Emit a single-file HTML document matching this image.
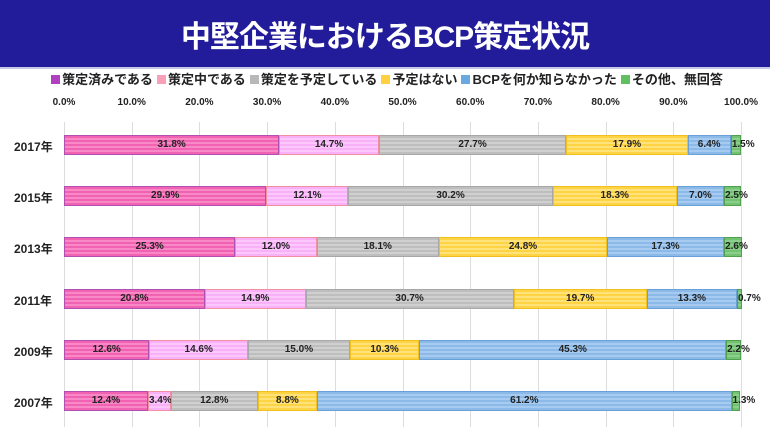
<!DOCTYPE html>
<html><head><meta charset="utf-8"><style>
body{margin:0;width:770px;height:427px;background:#fff;position:relative;overflow:hidden;font-family:"Liberation Sans","Noto Sans CJK JP",sans-serif;}
.t{position:absolute;left:0;top:0;width:770px;height:67px;background:#221c9a;border-bottom:2px solid #c8c8e8;}
.t div{position:absolute;left:0;right:0;top:12px;text-align:center;color:#fff;font-size:30px;font-weight:bold;letter-spacing:-1px;}
.lg{position:absolute;top:69px;left:0;width:770px;text-align:center;font-size:13px;font-weight:bold;color:#222;white-space:nowrap;}
.lg span.s{display:inline-block;width:9px;height:9px;margin:0 2px 0 4px;}
.ax{position:absolute;top:97px;font-size:10px;font-weight:bold;color:#222;transform:translateX(-50%);}
.gl{position:absolute;top:122px;height:305px;width:1px;background:#ddd;}
.yl{position:absolute;left:14px;font-size:12px;font-weight:bold;color:#222;}
.seg{position:absolute;height:20px;box-sizing:border-box;font-size:10px;font-weight:bold;color:#222;text-align:center;line-height:18px;white-space:nowrap;}
</style></head><body>
<div class="t"><div>中堅企業におけるBCP策定状況</div></div>
<div class="lg">
<span class="s" style="background:#b040c0"></span>策定済みである<span class="s" style="background:#f8a0b8"></span>策定中である<span class="s" style="background:#b8b8b8"></span>策定を予定している<span class="s" style="background:#ffd040"></span>予定はない<span class="s" style="background:#6aa8e0"></span>BCPを何か知らなかった<span class="s" style="background:#60c060"></span>その他、無回答
</div>
<div id="c"></div>
<script>
var c=document.getElementById('c'),h='';
var x0=64,W=677;
for(var i=0;i<=10;i++){var x=x0+W*i/10;h+='<div class="gl" style="left:'+x+'px"></div><div class="ax" style="left:'+x+'px">'+(i*10)+'.0%</div>';}
var cols=[['#f262b2','#f888c6','#b050b0'],['#f8b0f8','#fcc8fc','#f090a0'],['#bebebe','#d0d0d0','#a8a8a8'],['#ffd444','#ffe27a','#f0c020'],['#8cbae8','#a6caf0','#6aa0d8'],['#72c272','#8ccf8c','#50a050']];
var rows=[['2017年',[31.8,14.7,27.7,17.9,6.4,1.5]],['2015年',[29.9,12.1,30.2,18.3,7.0,2.5]],['2013年',[25.3,12.0,18.1,24.8,17.3,2.6]],['2011年',[20.8,14.9,30.7,19.7,13.3,0.7]],['2009年',[12.6,14.6,15.0,10.3,45.3,2.2]],['2007年',[12.4,3.4,12.8,8.8,61.2,1.3]]];
rows.forEach(function(r,k){var y=135+k*51.2;h+='<div class="yl" style="top:'+(y+3)+'px">'+r[0]+'</div>';
var acc=0;r[1].forEach(function(v,j){if(v<=0)return;var l=x0+W*acc/100,w=W*v/100;acc+=v;var cc=cols[j];
h+='<div class="seg" style="left:'+l+'px;top:'+y+'px;width:'+w+'px;border:1px solid '+cc[2]+';background:repeating-linear-gradient(180deg,'+cc[0]+' 0 2px,'+cc[1]+' 2px 4px);overflow:visible">'+v.toFixed(1)+'%</div>';});});
c.innerHTML=h;
</script>
</body></html>
